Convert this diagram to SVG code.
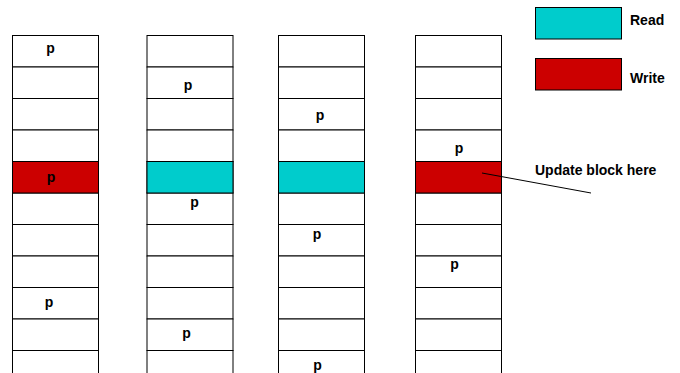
<svg xmlns="http://www.w3.org/2000/svg" width="680" height="373" viewBox="0 0 680 373">
<style>
.c{fill:#fff;stroke:#000;stroke-width:1}
.r{fill:#00cccc;stroke:#000;stroke-width:1}
.w{fill:#cc0000;stroke:#000;stroke-width:1}
text{font-family:"Liberation Sans",Arial,sans-serif;font-weight:bold;font-size:14px;fill:#000}
.p{text-anchor:middle}
</style>
<defs>
<g id="col">
<rect class="c" x="0" y="0" width="86" height="31.5"/>
<rect class="c" x="0" y="31.5" width="86" height="31.5"/>
<rect class="c" x="0" y="63" width="86" height="31.5"/>
<rect class="c" x="0" y="94.5" width="86" height="31.5"/>
<rect class="c" x="0" y="126" width="86" height="31.5"/>
<rect class="c" x="0" y="157.5" width="86" height="31.5"/>
<rect class="c" x="0" y="189" width="86" height="31.5"/>
<rect class="c" x="0" y="220.5" width="86" height="31.5"/>
<rect class="c" x="0" y="252" width="86" height="31.5"/>
<rect class="c" x="0" y="283.5" width="86" height="31.5"/>
<rect class="c" x="0" y="315" width="86" height="31.5"/>
</g>
</defs>
<g id="column1">
<use href="#col" x="12.5" y="35.5"/>
<rect class="w" x="12.5" y="161.5" width="86" height="31.5"/>
<text class="p" x="50.5" y="52.5">p</text>
<text class="p" x="51" y="182">p</text>
<text class="p" x="49" y="307">p</text>
</g>
<g id="column2">
<use href="#col" x="147" y="35.5"/>
<rect class="r" x="147" y="161.5" width="86" height="31.5"/>
<text class="p" x="188" y="90">p</text>
<text class="p" x="194.5" y="207">p</text>
<text class="p" x="186.5" y="338">p</text>
</g>
<g id="column3">
<use href="#col" x="278.5" y="35.5"/>
<rect class="r" x="278.5" y="161.5" width="86" height="31.5"/>
<text class="p" x="320" y="120">p</text>
<text class="p" x="317" y="239">p</text>
<text class="p" x="317.5" y="369.5">p</text>
</g>
<g id="column4">
<use href="#col" x="415.5" y="35.5"/>
<rect class="w" x="415.5" y="161.5" width="86" height="31.5"/>
<text class="p" x="459" y="153">p</text>
<text class="p" x="454.5" y="269">p</text>
</g>
<g id="legend-read">
<rect class="r" x="535.5" y="7.5" width="86" height="31.5"/>
<text x="630" y="25">Read</text>
</g>
<g id="legend-write">
<rect class="w" x="535.5" y="58.5" width="86" height="31.5"/>
<text x="630" y="83">Write</text>
</g>
<g id="update-label">
<text x="535" y="175">Update block here</text>
</g>
<g id="connectors">
<line x1="482" y1="173" x2="591" y2="193" stroke="#000" stroke-width="1"/>
</g>
</svg>
